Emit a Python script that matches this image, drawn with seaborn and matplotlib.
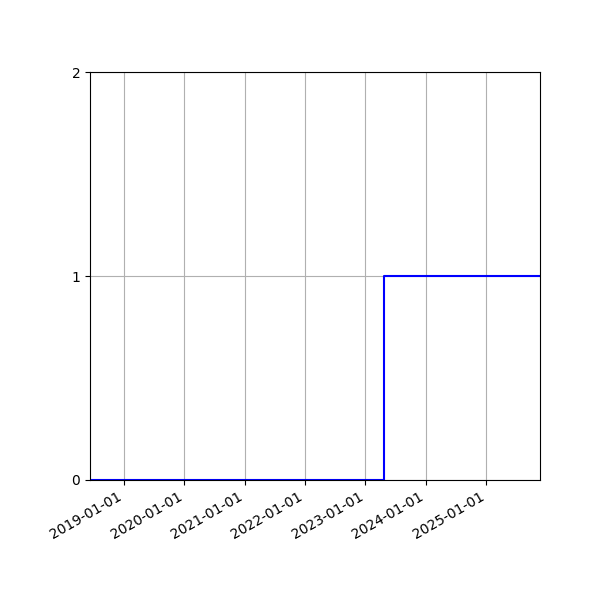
import pandas as pd
import numpy as np
import matplotlib
matplotlib.use('Agg')
import matplotlib.pyplot as plt
import matplotlib.dates as mdates
import seaborn as sns

# step data: 0 until the change date, 1 afterwards
dates = pd.to_datetime(['2018-06-09', '2023-04-22', '2025-11-22'])
values = [0, 1, 1]
y_ticks = [0, 1, 2]

sns.set_style('white')
plt.rcParams['font.family'] = ['DejaVu Sans']

fig, ax = plt.subplots(figsize=(6, 6), dpi=100)
sns.lineplot(x=dates, y=values, drawstyle='steps-post', color='blue', linewidth=1.5, ax=ax)

ax.set_xlim(dates[0], dates[-1])
ax.set_ylim(0, 2)
ax.set_yticks(y_ticks)
ax.xaxis.set_major_locator(mdates.YearLocator())
ax.xaxis.set_major_formatter(mdates.DateFormatter('%Y-%m-%d'))
ax.grid(True, color='#b0b0b0', linewidth=0.8)
ax.tick_params(bottom=True, left=True, direction='out', length=3.5, width=0.8,
               colors='black', labelsize=10)
for s in ax.spines.values():
    s.set_color('black')
    s.set_linewidth(0.8)
ax.set_xlabel('')
ax.set_ylabel('')

fig.autofmt_xdate()
fig.subplots_adjust(left=0.15, right=0.9, top=0.88, bottom=0.2)
fig.savefig('out.png', dpi=100)
